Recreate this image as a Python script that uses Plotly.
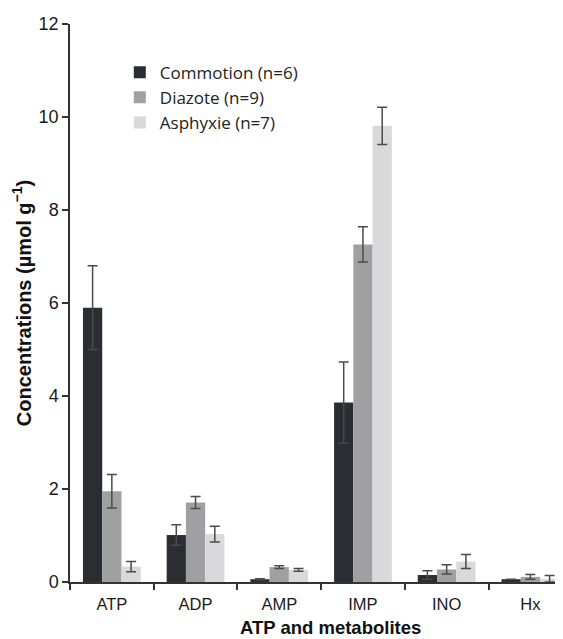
import plotly.graph_objects as go

categories = ["ATP", "ADP", "AMP", "IMP", "INO", "Hx"]
series_names = ["Commotion (n=6)", "Diazote (n=9)", "Asphyxie (n=7)"]
commotion = [5.9, 1.01, 0.06, 3.86, 0.15, 0.06]
commotion_err = [0.9, 0.22, 0.01, 0.87, 0.09, 0.0]
diazote = [1.95, 1.71, 0.32, 7.26, 0.27, 0.11]
diazote_err = [0.36, 0.13, 0.03, 0.38, 0.1, 0.05]
asphyxie = [0.33, 1.03, 0.26, 9.81, 0.44, 0.07]
asphyxie_err = [0.11, 0.17, 0.03, 0.4, 0.15, 0.07]
y_ticks = [0, 2, 4, 6, 8, 10, 12]

colors = ["#2b2d33", "#a0a0a3", "#d9d9db"]
values = [commotion, diazote, asphyxie]
errors = [commotion_err, diazote_err, asphyxie_err]

fig = go.Figure()
for name, vals, errs, col in zip(series_names, values, errors, colors):
    fig.add_trace(go.Bar(
        x=categories, y=vals, name=name,
        marker=dict(color=col, line=dict(width=0)),
        error_y=dict(type="data", array=errs, visible=True, color="#4a4a4f",
                     thickness=1.5, width=5),
    ))

# page body has an 8px default margin, so the figure is 8px smaller than the window
fig.update_layout(
    width=555, height=631,
    margin=dict(l=62, r=0, t=16, b=57),
    plot_bgcolor="white", paper_bgcolor="white",
    barmode="group", bargap=0.31, bargroupgap=0,
    font=dict(family="Liberation Sans, Arial", color="#1a1a1a"),
    showlegend=True,
    legend=dict(x=0.101, y=0.945, xanchor="left", yanchor="top",
                bgcolor="rgba(0,0,0,0)", font=dict(family="Open Sans", size=17, color="#222"),
                itemwidth=30, tracegroupgap=0),
    annotations=[dict(
        text="<b>ATP and metabolites</b>", xref="paper", yref="paper",
        x=(330 - 70) / 493, y=-45.5 / 558,
        xanchor="center", yanchor="middle", showarrow=False,
        font=dict(size=18.5, color="#111"),
    )],
)
fig.update_xaxes(
    range=[-0.5, 5.39], showline=True, linecolor="#333", linewidth=1.5,
    ticks="outside", tickson="boundaries", ticklen=6, tickcolor="#333", tickwidth=1.5,
    ticklabelstandoff=6,
    tickfont=dict(size=16.5, color="#1a1a1a"), showgrid=False, automargin=False,
)
fig.update_yaxes(
    range=[0, 12], tickvals=y_ticks, showline=True, linecolor="#333", linewidth=1.5,
    ticks="outside", ticklen=6, tickcolor="#333", tickwidth=1.5,
    tickfont=dict(size=18, color="#1a1a1a"), showgrid=False, zeroline=False, automargin=False,
    title=dict(text="<b>Concentrations (µmol g<sup>−1</sup>)</b>", font=dict(size=20, color="#111"), standoff=2),
)
fig.write_html("out.html")
